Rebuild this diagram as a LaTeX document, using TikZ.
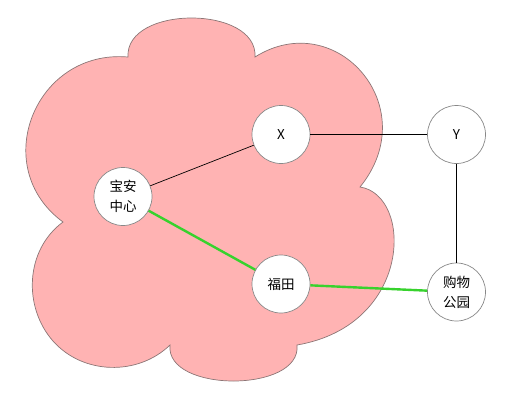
\documentclass[tikz,border=0pt]{standalone}
\usepackage{fontspec}
\setmainfont{Noto Sans CJK SC}
\usepackage{tikz}
\usetikzlibrary{positioning}
\definecolor{cloudpink}{RGB}{255,179,179}
\definecolor{cloudline}{RGB}{140,118,118}
\definecolor{circline}{RGB}{136,136,136}
\definecolor{routegreen}{RGB}{55,210,45}

\begin{document}
\begin{tikzpicture}[
        x=1pt, y=-1pt,
        station/.style={circle, draw=circline, fill=white, line width=0.7pt,
          minimum size=58pt, inner sep=0pt, align=center,
          font=\fontsize{13.5}{20}\selectfont},
        link/.style={draw, black, line width=0.7pt},
        route/.style={draw, routegreen, line width=2.4pt},
      ]
      \useasboundingbox (0,0) rectangle (516,402);
      % cloud
      \draw[fill=cloudpink, draw=cloudline, line width=0.7pt]
        (128,57) .. controls (125,5) and (258,5) .. (255,57)
        .. controls (336,6) and (425,107) .. (360,187)
        .. controls (413,195) and (413,325) .. (297,345)
        .. controls (302,393) and (165,393) .. (170,345)
        .. controls (138,376) and (83,375) .. (53,341)
        .. controls (23,307) and (25,250) .. (63,222)
        .. controls (-12,167) and (35,49) .. (128,57) -- cycle;
      % stations
      \node[station] (baoan) at (123,196.5) {宝安\\中心};
      \node[station] (x) at (281,134.5) {X};
      \node[station] (y) at (456.5,134.5) {Y};
      \node[station] (futian) at (281,284) {福田};
      \node[station] (gouwu) at (456.5,292) {购物\\公园};
      % links
      \draw[link] (baoan) -- (x);
      \draw[link] (x) -- (y);
      \draw[link] (y) -- (gouwu);
      \draw[route] (baoan) -- (futian);
      \draw[route] (futian) -- (gouwu);
\end{tikzpicture}
\end{document}
